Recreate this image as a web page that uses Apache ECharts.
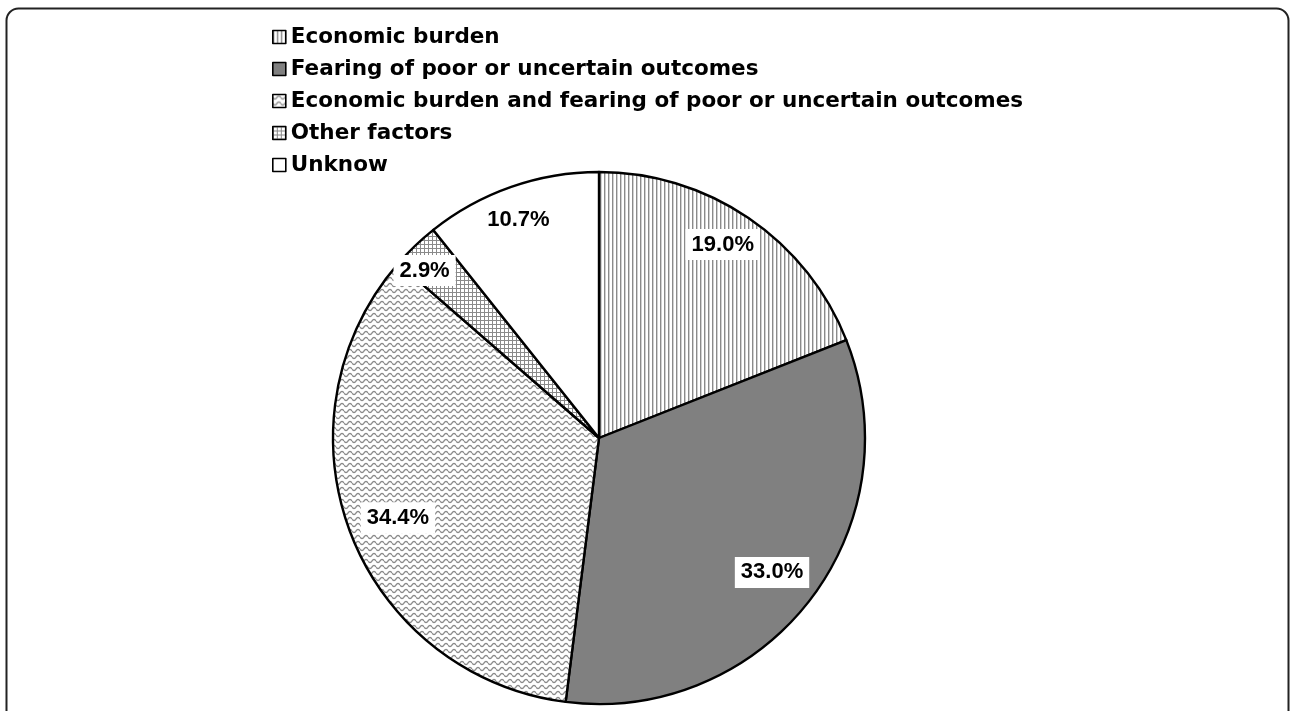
<!DOCTYPE html>
<html>
<head>
<meta charset="utf-8">
<title>Reasons</title>
<script src="https://cdn.jsdelivr.net/npm/echarts@6/dist/echarts.min.js"></script>
<style>
  html, body { margin: 0; padding: 0; background: #fff; }
  #chart { width: 1290px; height: 711px; }
</style>
</head>
<body>
<div id="chart"></div>
<script>
// Reasons and their shares (%), clockwise from 12 o'clock
const categories = [
  'Economic burden',
  'Fearing of poor or uncertain outcomes',
  'Economic burden and fearing of poor or uncertain outcomes',
  'Other factors',
  'Unknow'
];
const shares = [19.0, 33.0, 34.4, 2.9, 10.7];

// small nudges for the percentage labels along the rim ring
const labelNudge = [[-5, -4], [-8, -6], [13, -2], [-16, -2], [-5, -2]];

// Fill patterns drawn on small tiles
function tile(w, h, draw) {
  const c = document.createElement('canvas');
  c.width = w; c.height = h;
  const g = c.getContext('2d');
  g.fillStyle = '#fff';
  g.fillRect(0, 0, w, h);
  draw(g);
  return { image: c, repeat: 'repeat' };
}
const vLines = tile(4, 4, g => {
  g.fillStyle = '#8a8a8a';
  g.fillRect(0, 0, 1.4, 4);
});
const waves = tile(8, 6, g => {
  g.strokeStyle = '#8a8a8a';
  g.lineWidth = 1.3;
  g.beginPath();
  for (let x = 0; x <= 8; x += 0.5) {
    const y = 3 + 1.6 * Math.sin(x / 8 * Math.PI * 2);
    if (x === 0) g.moveTo(x, y); else g.lineTo(x, y);
  }
  g.stroke();
});
const grid = tile(4, 4, g => {
  g.fillStyle = '#8a8a8a';
  g.fillRect(0, 0, 4, 1);
  g.fillRect(0, 0, 1, 4);
});
const fills = [vLines, '#808080', waves, grid, '#ffffff'];

const chart = echarts.init(document.getElementById('chart'), null, { renderer: 'canvas' });
const center = [599, 438];
const R = 266;

chart.setOption({
  backgroundColor: '#fff',
  animation: false,
  graphic: [{
    type: 'rect',
    shape: { x: 6.5, y: 8.5, width: 1282, height: 740, r: 12 },
    style: { fill: 'none', stroke: '#222', lineWidth: 2 },
    silent: true,
    z: 100
  }],
  legend: {
    orient: 'vertical',
    left: 272,
    top: 26,
    padding: 0,
    icon: 'rect',
    itemWidth: 13,
    itemHeight: 13,
    itemGap: 10,
    data: categories,
    itemStyle: { borderColor: '#000', borderWidth: 1.6 },
    textStyle: {
      fontFamily: 'DejaVu Sans, sans-serif',
      fontWeight: 'bold',
      fontSize: 21.5,
      lineHeight: 22,
      color: '#000'
    }
  },
  series: [
    {
      type: 'pie',
      center: center,
      radius: R,
      startAngle: 90,
      clockwise: true,
      silent: true,
      label: { show: false },
      labelLine: { show: false },
      itemStyle: { borderColor: '#000', borderWidth: 2.4 },
      data: categories.map((name, i) => ({
        name: name,
        value: shares[i],
        itemStyle: { color: fills[i] }
      }))
    },
    {
      // transparent ring carrying the percentage labels near the rim
      type: 'pie',
      center: center,
      radius: [R * 0.7, R],
      startAngle: 90,
      clockwise: true,
      silent: true,
      z: 5,
      legendHoverLink: false,
      itemStyle: { color: 'rgba(0,0,0,0)', borderWidth: 0 },
      labelLine: { show: false },
      label: {
        show: true,
        position: 'inside',
        formatter: p => shares[p.dataIndex].toFixed(1) + '%',
        fontFamily: 'Liberation Sans, Arial, sans-serif',
        fontWeight: 'bold',
        fontSize: 22,
        color: '#000',
        backgroundColor: '#fff',
        padding: [5, 6, 4, 6]
      },
      data: categories.map((name, i) => ({
        name: name,
        value: shares[i],
        label: { offset: labelNudge[i] }
      }))
    }
  ]
});
</script>
</body>
</html>
